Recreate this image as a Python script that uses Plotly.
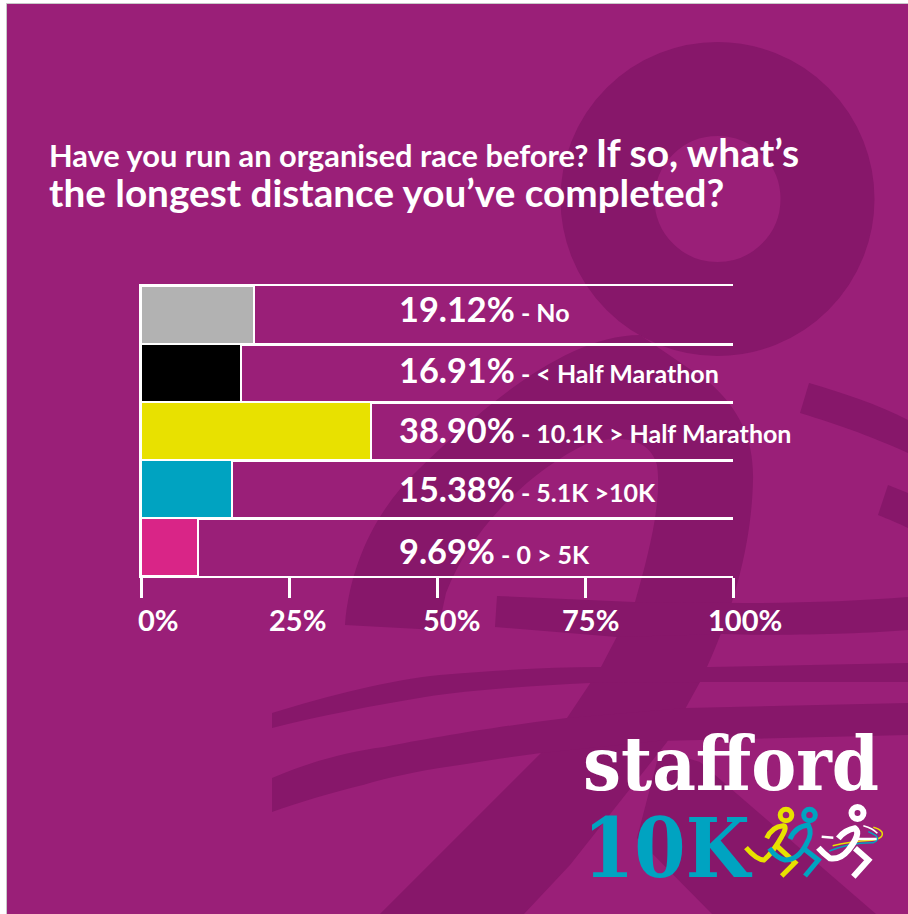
import plotly.graph_objects as go

# ---- data ----
categories = ["No", "&lt; Half Marathon", "10.1K &gt; Half Marathon", "5.1K &gt;10K", "0 &gt; 5K"]
values = [19.12, 16.91, 38.90, 15.38, 9.69]
bar_colors = ["#b2b2b2", "#000000", "#e8e100", "#00a3c1", "#d92587"]
tick_values = [0, 25, 50, 75, 100]
tick_labels = ["0%", "25%", "50%", "75%", "100%"]

W, H = 908, 914
BG = "#9a1f78"
DARK = "#87176a"
TEAL = "#00a3c1"
YEL = "#e8e100"
FONT = "Lato"
SLAB = "DejaVu Serif"


def X(v):
    return v / W


def Y(v):
    return 1 - v / H


def path(s):
    """Pixel path 'M x y L x y ...' -> paper fractions."""
    out, is_x = [], True
    for tok in s.split():
        if tok.isalpha():
            out.append(tok)
            is_x = True
        else:
            v = float(tok)
            out.append(f"{X(v) if is_x else Y(v):.5f}")
            is_x = not is_x
    res, i = [], 0
    for tok in out:
        if tok.isalpha():
            res.append(tok)
            i = 0
        else:
            res.append(tok + ("," if i % 2 == 0 else ""))
            i += 1
    return " ".join(res)


def shape_fill(s, color=DARK):
    return dict(type="path", xref="paper", yref="paper", path=path(s), fillcolor=color,
                line=dict(width=0), layer="below")


def circle(cx, cy, r, lw, color, layer="below"):
    return dict(type="circle", xref="paper", yref="paper", x0=X(cx - r), x1=X(cx + r),
                y0=Y(cy - r), y1=Y(cy + r), line=dict(color=color, width=lw),
                fillcolor="rgba(0,0,0,0)", layer=layer)


def stroke(s, color, lw):
    return dict(type="path", xref="paper", yref="paper", path=path(s),
                fillcolor="rgba(0,0,0,0)", line=dict(color=color, width=lw), layer="above")


def zp(s):
    """Logo path given in zoomed crop units -> pixels."""
    out, is_x = [], True
    for tok in s.split():
        if tok.isalpha():
            out.append(tok)
            is_x = True
        else:
            v = float(tok)
            out.append(str(740 + v / 3 if is_x else 795 + v / 3))
            is_x = not is_x
    return " ".join(out)


shapes = [
    # page panel
    dict(type="rect", xref="paper", yref="paper", x0=X(6.5), x1=X(W + 4), y0=Y(3.5), y1=Y(H + 4),
         fillcolor=BG, line=dict(color="#c8c8c8", width=1), layer="below"),
    # background ring
    circle(717.5, 199, 110, 94, DARK),
    # body swoosh
    shape_fill("M 345 625 C 350 560 380 505 420 468 C 470 420 560 335 640 335 L 710 383 "
               "C 740 410 754 440 753 480 C 752 530 740 600 700 682 L 667 742 L 570 865 L 524 914 L 380 914 "
               "L 541 753 L 567 718 L 601 667 L 635 602 C 650 550 662 500 657 465 C 650 440 625 434 588 443 "
               "C 530 470 470 530 446 593 L 438 630 Z"),
    # horizontal bands
    shape_fill("M 497 596 L 634 602 L 743 603 C 800 603 860 601 908 597 L 908 630 C 860 634 780 636 723 634 "
               "L 617 637 L 495 627 Z"),
    shape_fill("M 272 713 C 330 695 390 680 440 675 C 500 670 550 667 601 667 L 710 667 L 908 663 L 908 682 "
               "L 700 682 L 590 683 C 530 686 470 690 425 697 C 370 706 320 716 272 728 Z"),
    shape_fill("M 272 778 C 310 762 345 752 384 747 C 430 738 500 726 567 718 L 686 708 L 908 703 L 908 735 "
               "L 657 741 L 541 753 C 510 757 480 762 446 767 C 420 771 390 777 363 785 C 330 793 300 802 272 812 Z"),
    # diagonal strokes on the right
    shape_fill("M 809 383 L 800 413 C 840 425 880 440 908 453 L 908 420 C 880 405 840 392 809 383 Z"),
    shape_fill("M 888 485 L 878 515 C 888 519 900 524 908 528 L 908 493 Z"),
    # lower leg
    shape_fill("M 660 750 L 700 762 L 876 914 L 712 914 L 637 838 Z"),
    # logo: yellow runner
    circle(786, 815, 5.8, 5, YEL, "above"),
    stroke(zp("M 80 130 Q 95 95 130 92 Q 143 95 125 125 Q 100 170 72 195 Q 50 195 18 158"), YEL, 5),
    stroke(zp("M 113 155 L 165 203 L 125 243"), YEL, 5),
    # logo: teal runner
    circle(809.5, 815, 5.8, 5, TEAL, "above"),
    stroke(zp("M 150 132 Q 165 95 205 90 Q 218 115 200 145 Q 175 195 135 195 Q 110 190 88 160"), TEAL, 5),
    stroke(zp("M 190 160 L 235 195 L 195 243"), TEAL, 5),
    # logo: coloured streaks
    stroke(zp("M 278 152 Q 330 140 395 136 Q 435 130 425 110 Q 418 102 400 97"), YEL, 1.5),
    stroke(zp("M 268 168 Q 330 142 400 143 Q 420 135 408 122 Q 395 115 385 110"), TEAL, 1.5),
    stroke(zp("M 370 92 Q 400 100 412 115"), "#ffffff", 1.5),
    # logo: white runner
    circle(857.5, 813, 6, 6, "#ffffff", "above"),
    stroke(zp("M 295 130 Q 315 105 345 100 Q 365 115 325 165 Q 300 195 270 190 Q 250 175 235 158"), "#ffffff", 6),
    stroke(zp("M 345 160 L 385 195 L 340 245"), "#ffffff", 6),
    stroke(zp("M 245 125 L 280 128"), "#ffffff", 2.5),
    stroke(zp("M 345 132 L 410 132"), "#ffffff", 2.5),
]

annotations = [
    dict(xref="paper", yref="paper", x=X(46.5), y=Y(172), xanchor="left", yanchor="middle", showarrow=False,
         align="left", font=dict(family=FONT, color="white", size=30.8, weight="bold"),
         text='Have you run an organised race before? <span style="font-size:39px">If so, what’s</span><br>'
              '<span style="font-size:38.7px">the longest distance you’ve completed?</span>'),
    dict(xref="paper", yref="paper", x=X(581), y=Y(808), xanchor="left", yanchor="middle", showarrow=False,
         align="left", font=dict(family=SLAB, color="white", size=67, weight="bold"),
         text='<span style="font-stretch:condensed;font-size:75px">stafford</span><br>'
              f'<span style="font-stretch:condensed;font-size:82px;fill:{TEAL}">10K</span>'),
]

# value labels beside the bars
label_shift = [6, 3, 1, 0, -3]
for cat, v, sh in zip(categories, values, label_shift):
    annotations.append(dict(
        xref="x", yref="y", x=43.25, y=cat, yshift=sh, xanchor="left", yanchor="middle", showarrow=False,
        font=dict(family=FONT, color="white", size=25, weight="bold"),
        text=f'<span style="font-size:34.3px">{v:.2f}%</span> - {cat}'))

# tick labels (set slightly to the right of their ticks, as in the original)
tick_shift = [17, 8, 14, 5, 12]
for tv, tl, sh in zip(tick_values, tick_labels, tick_shift):
    annotations.append(dict(
        xref="x", yref="paper", x=tv, xshift=sh, y=Y(619), xanchor="center", yanchor="middle", showarrow=False,
        font=dict(family=FONT, color="white", size=29, weight="bold"), text=tl))

fig = go.Figure(go.Bar(
    x=values, y=categories, orientation="h",
    marker=dict(color=bar_colors, line=dict(color="white", width=2)),
    hoverinfo="skip",
))

fig.update_layout(
    width=W, height=H, margin=dict(l=0, r=0, t=0, b=0), autosize=False,
    paper_bgcolor="#ffffff", plot_bgcolor="rgba(0,0,0,0)", showlegend=False,
    bargap=0, shapes=shapes, annotations=annotations,
    xaxis=dict(domain=[X(141), X(733)], range=[0, 100], tickvals=tick_values, ticks="outside", ticklen=20,
               tickwidth=2.5, tickcolor="white", showticklabels=False, showgrid=False, zeroline=False,
               showline=True, linecolor="white", linewidth=2, mirror=True),
    yaxis=dict(domain=[Y(576), Y(286)], autorange="reversed", showticklabels=False, ticks="",
               tickson="boundaries", showgrid=True, gridcolor="white", gridwidth=2.5, zeroline=False,
               showline=True, linecolor="white", linewidth=2),
)

fig.write_html("out.html", config=dict(displayModeBar=False),
               post_script="document.body.style.margin='0';document.body.style.overflow='hidden';")
